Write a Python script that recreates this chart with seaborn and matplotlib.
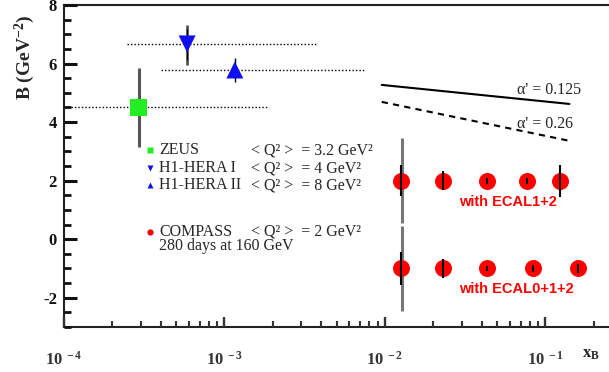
import numpy as np
import pandas as pd
import matplotlib
matplotlib.use("Agg")
import matplotlib.pyplot as plt
import seaborn as sns

# ---------------- data ----------------
zeus_x = [2.93e-4]
zeus_y = [4.5]
zeus_err = [1.35]
zeus_xrange = [1.0e-4, 1.9e-3]

h1a_x = [5.85e-4]
h1a_y = [6.67]
h1a_err_up = [0.65]
h1a_err_dn = [0.72]
h1a_xrange = [2.47e-4, 3.8e-3]

h1b_x = [1.16e-3]
h1b_y = [5.78]
h1b_err_up = [0.41]
h1b_err_dn = [0.41]
h1b_xrange = [4.0e-4, 7.5e-3]

compass1_x = [0.0125, 0.0229, 0.043, 0.0764, 0.123]
compass1_y = [2.0, 2.0, 2.0, 2.0, 2.0]
compass1_err = [0.54, 0.32, 0.10, 0.10, 0.55]

compass2_x = [0.0125, 0.0229, 0.043, 0.084, 0.16]
compass2_y = [-1.0, -1.0, -1.0, -1.0, -1.0]
compass2_err = [0.55, 0.32, 0.10, 0.12, 0.15]

sys_x = [0.0128, 0.0128]
sys_y = [2.0, -1.0]
sys_err = [1.45, 1.45]

alpha125_x = [9.55e-3, 0.141]
alpha125_y = [5.27, 4.62]
alpha26_x = [9.55e-3, 0.141]
alpha26_y = [4.69, 3.36]

xticks = [1e-4, 1e-3, 1e-2, 1e-1]
xtick_labels = [r"$\mathbf{10^{\ -4}}$", r"$\mathbf{10^{\ -3}}$",
                r"$\mathbf{10^{\ -2}}$", r"$\mathbf{10^{\ -1}}$"]
yticks = [-2, 0, 2, 4, 6, 8]

# ---------------- style ----------------
sns.set_style("ticks", {"axes.axisbelow": False})
plt.rcParams["font.family"] = ["Liberation Serif", "DejaVu Serif"]
plt.rcParams["mathtext.fontset"] = "custom"
plt.rcParams["mathtext.rm"] = "Liberation Serif"
plt.rcParams["mathtext.bf"] = "Liberation Serif:bold"
plt.rcParams["mathtext.it"] = "Liberation Serif:italic"
plt.rcParams["xtick.direction"] = "in"
plt.rcParams["ytick.direction"] = "in"
plt.rcParams["xtick.major.size"] = 7
plt.rcParams["ytick.major.size"] = 9
plt.rcParams["xtick.minor.size"] = 4
plt.rcParams["ytick.minor.size"] = 5
plt.rcParams["xtick.major.width"] = 1.7
plt.rcParams["ytick.major.width"] = 2.2
plt.rcParams["xtick.minor.width"] = 1.5
plt.rcParams["ytick.minor.width"] = 2.0
plt.rcParams["xtick.color"] = "#333333"
plt.rcParams["ytick.color"] = "#111111"

fig = plt.figure(figsize=(6.09, 3.72), dpi=100)
ax = fig.add_axes([64 / 609, 45 / 372, 545 / 609, 322 / 372])
ax.set_xscale("log")
ax.set_xlim(1e-4, 10 ** (-0.604))
ax.set_ylim(-3, 8)

# dotted x-ranges
for xr, yv in [(zeus_xrange, zeus_y[0]), (h1a_xrange, h1a_y[0]), (h1b_xrange, h1b_y[0])]:
    ax.plot(xr, [yv, yv], color="black", ls=(0, (1, 1.5)), lw=1.0, zorder=2)

# error bars HERA
ax.errorbar(zeus_x, zeus_y, yerr=zeus_err, fmt="none", ecolor="#555555", elinewidth=2.2, zorder=3)
ax.errorbar(h1a_x, h1a_y, yerr=[h1a_err_dn, h1a_err_up], fmt="none", ecolor="#555555", elinewidth=2.0, zorder=3)
ax.errorbar(h1a_x, h1a_y, yerr=[[0.55], [0.5]], fmt="none", ecolor="black", elinewidth=0.8, zorder=3)
ax.errorbar(h1b_x, h1b_y, yerr=[h1b_err_dn, h1b_err_up], fmt="none", ecolor="black", elinewidth=1.0, zorder=3)

# systematic bands for COMPASS
ax.errorbar(sys_x, sys_y, yerr=sys_err, fmt="none", ecolor="#777777", elinewidth=2.2, zorder=3)

hera = pd.DataFrame({"x": zeus_x + h1a_x + h1b_x, "y": zeus_y + h1a_y + h1b_y,
                     "set": ["ZEUS", "H1-HERA I", "H1-HERA II"]})
sns.scatterplot(data=hera, x="x", y="y", hue="set", style="set",
                palette={"ZEUS": "#22ee22", "H1-HERA I": "#1010ee", "H1-HERA II": "#1010ee"},
                markers={"ZEUS": "s", "H1-HERA I": "v", "H1-HERA II": "^"},
                s=150, linewidth=0, legend=False, ax=ax, zorder=4)

comp = pd.DataFrame({"x": compass1_x + compass2_x, "y": compass1_y + compass2_y})
sns.scatterplot(data=comp, x="x", y="y", color="#ff0000", s=150, linewidth=0,
                legend=False, ax=ax, zorder=4)
ax.errorbar(compass1_x, compass1_y, yerr=compass1_err, fmt="none", ecolor="black", elinewidth=1.5, zorder=5)
ax.errorbar(compass2_x, compass2_y, yerr=compass2_err, fmt="none", ecolor="black", elinewidth=1.5, zorder=5)

# alpha' lines
sns.lineplot(x=alpha125_x, y=alpha125_y, color="black", lw=1.5, ax=ax)
ax.plot(alpha26_x, alpha26_y, color="black", lw=1.5, ls=(0, (3, 2.5)))
ax.text(0.0664, 5.1, "α' = 0.125", fontsize=11.5, va="center", ha="left")
ax.text(0.0664, 3.92, "α' = 0.26", fontsize=11.5, va="center", ha="left")

# legend-like annotations
fs = 11.5
leg = [("s", "#22ee22", "ZEUS", "< Q² >  = 3.2 GeV²", 3.04),
       ("v", "#1010ee", "H1-HERA I", "< Q² >  = 4 GeV²", 2.43),
       ("^", "#1010ee", "H1-HERA II", "< Q² >  = 8 GeV²", 1.85),
       ("o", "#ff0000", "COMPASS", "< Q² >  = 2 GeV²", 0.25)]
trans = ax.get_yaxis_transform()
for mk, col, name, q, yv in leg:
    ax.plot([(150 - 64) / 545], [yv], marker=mk, color=col, ms=4.5, mec="none",
            transform=trans, ls="none", clip_on=False)
    ax.text((159 - 64) / 545, yv, name, fontsize=fs, va="center", ha="left", transform=trans)
    ax.text((251 - 64) / 545, yv, q, fontsize=fs, va="center", ha="left", transform=trans)
ax.text((159 - 64) / 545, -0.25, "280 days at 160 GeV", fontsize=fs, va="center", ha="left", transform=trans)

ax.text((459 - 64) / 545, 1.27, "with ECAL1+2", color="#ff0000", fontsize=10.5, fontweight="bold",
        family="Liberation Sans", va="center", ha="left", transform=trans)
ax.text((459 - 64) / 545, -1.7, "with ECAL0+1+2", color="#ff0000", fontsize=10.5, fontweight="bold",
        family="Liberation Sans", va="center", ha="left", transform=trans)

# axes styling
for side in ["left", "bottom", "top"]:
    ax.spines[side].set_linewidth(1.5)
    ax.spines[side].set_color("#222222")
ax.spines["right"].set_visible(False)
ax.set_xticks(xticks)
ax.set_xticklabels(xtick_labels, fontsize=12)
ax.xaxis.set_minor_locator(matplotlib.ticker.LogLocator(base=10, subs=np.arange(2, 10), numticks=20))
ax.xaxis.set_minor_formatter(matplotlib.ticker.NullFormatter())
ax.set_yticks(yticks)
ax.set_yticklabels([str(v) for v in yticks], fontsize=12, fontweight="bold")
ax.yaxis.set_minor_locator(matplotlib.ticker.MultipleLocator(0.5))
ax.xaxis.set_ticks_position("bottom")
ax.yaxis.set_ticks_position("left")
ax.tick_params(axis="y", which="both", left=True, right=False, direction="in")
ax.tick_params(axis="x", which="major", pad=17)
ax.tick_params(axis="y", which="major", pad=5)
ax.set_xlabel("")
ax.set_ylabel("")
fig.text(25 / 609, 1 - 57 / 372, r"$\mathbf{B\ (GeV^{-2})}$", rotation=90, fontsize=14,
         ha="center", va="center")
fig.text(591 / 609, 1 - 355 / 372, r"$\mathbf{x}_{\mathbf{B}}$", fontsize=12, ha="center", va="center",
         family="Liberation Sans")

fig.savefig("out.png", dpi=100)
